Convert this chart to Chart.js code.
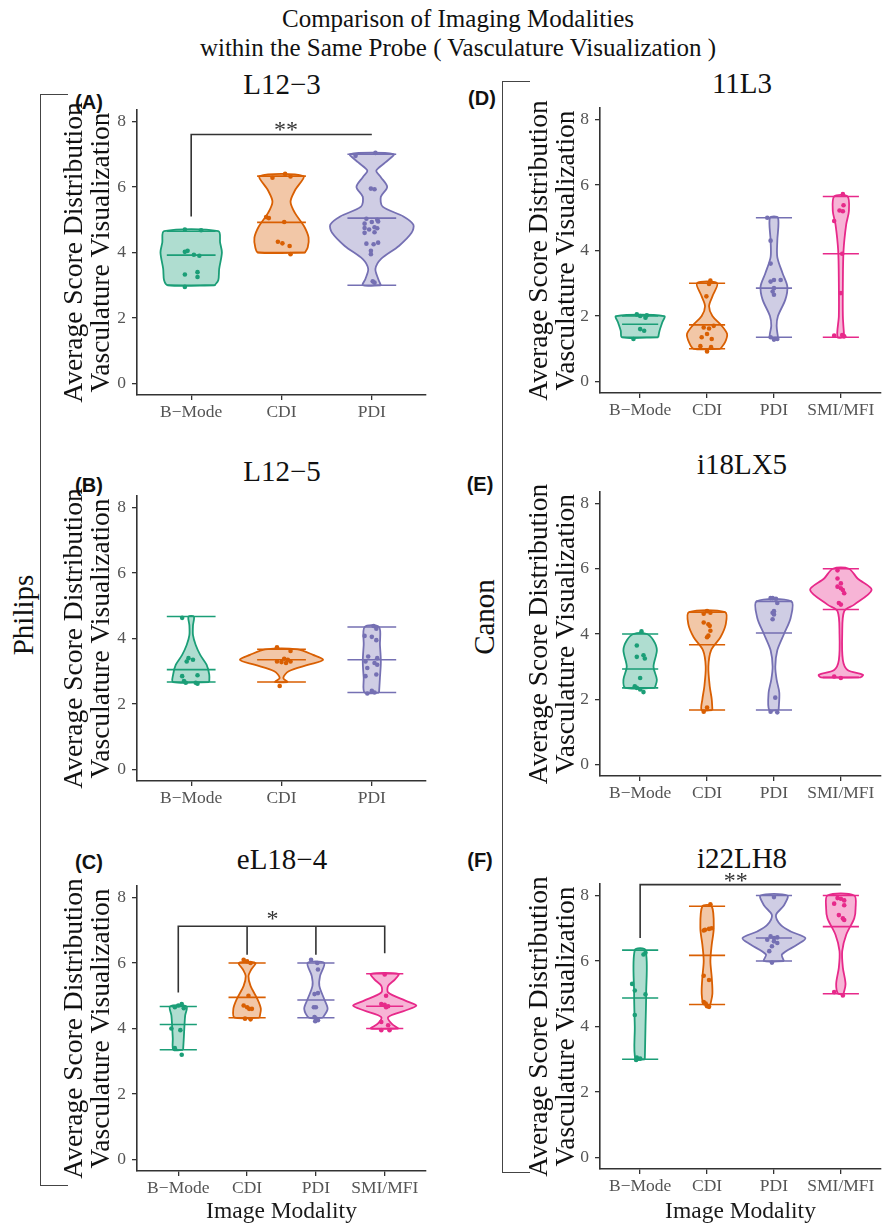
<!DOCTYPE html>
<html>
<head>
<meta charset="utf-8">
<script src="https://cdn.jsdelivr.net/npm/chart.js@4.4.1/dist/chart.umd.min.js"></script>
<style>
body { margin: 0; background: #fff; }
#page { position: relative; width: 885px; height: 1224px; overflow: hidden; font-family: 'Liberation Serif', 'Times New Roman', serif; color: #111; }
canvas { position: absolute; }
.txt { position: absolute; white-space: nowrap; line-height: 1; transform: translate(-50%, -50%); }
.main { font-size: 25px; }
.ptitle { font-size: 29px; }
.rot { transform: translate(-50%, -50%) rotate(-90deg); }
.tag { font-family: 'Liberation Sans', Arial, sans-serif; font-weight: bold; font-size: 20px; }
.brk { position: absolute; border: 1.5px solid #444; border-right: none; width: 27px; height: 1090px; }
</style>
</head>
<body>
<div id="page">
  <div class="txt main" style="left:458px; top:18px;">Comparison of Imaging Modalities</div>
  <div class="txt main" style="left:458px; top:47px;">within the Same Probe ( Vasculature Visualization )</div>

  <div class="brk" style="left:40px; top:94px;"></div>
  <div class="brk" style="left:502px; top:81px;"></div>
  <div class="txt ptitle rot" style="left:23px; top:615px;">Philips</div>
  <div class="txt ptitle rot" style="left:484px; top:617px;">Canon</div>

  <div class="txt ptitle" style="left:282px; top:84px;">L12&#8722;3</div>
  <div class="txt ptitle" style="left:282px; top:471px;">L12&#8722;5</div>
  <div class="txt ptitle" style="left:282px; top:859px;">eL18&#8722;4</div>
  <div class="txt ptitle" style="left:742px; top:83px;">11L3</div>
  <div class="txt ptitle" style="left:742px; top:464px;">i18LX5</div>
  <div class="txt ptitle" style="left:742px; top:858px;">i22LH8</div>

  <div class="txt tag" style="left:89px; top:102px;">(A)</div>
  <div class="txt tag" style="left:89px; top:485px;">(B)</div>
  <div class="txt tag" style="left:89px; top:862px;">(C)</div>
  <div class="txt tag" style="left:482px; top:98px;">(D)</div>
  <div class="txt tag" style="left:480px; top:484px;">(E)</div>
  <div class="txt tag" style="left:480px; top:860px;">(F)</div>

  <canvas id="chartA" width="375" height="338" style="left:55px; top:85px;"></canvas>
  <canvas id="chartB" width="375" height="338" style="left:55px; top:471px;"></canvas>
  <canvas id="chartC" width="375" height="363" style="left:55px; top:861px;"></canvas>
  <canvas id="chartD" width="380" height="338" style="left:505px; top:83px;"></canvas>
  <canvas id="chartE" width="380" height="337" style="left:505px; top:467px;"></canvas>
  <canvas id="chartF" width="380" height="365" style="left:505px; top:859px;"></canvas>
</div>

<script>
'use strict';

let catsThree = ['B\u2212Mode', 'CDI', 'PDI'];
let catsFour = ['B\u2212Mode', 'CDI', 'PDI', 'SMI/MFI'];
let catColors = ['#1B9E77', '#D95F02', '#7570B3', '#E7298A'];
let catFills = ['rgba(27,158,119,0.35)', 'rgba(217,95,2,0.35)', 'rgba(117,112,179,0.35)', 'rgba(231,41,138,0.35)'];
let yTicks = [0, 2, 4, 6, 8];
let yTitleLines = ['Average Score Distribution', 'Vasculature Visualization'];
let serif = "'Liberation Serif', 'Times New Roman', serif";

// violin outlines: [score, half width in category units]
let violinA = [
    [[3.0, 0.26], [3.15, 0.3], [3.5, 0.31], [4.0, 0.34], [4.3, 0.32], [4.65, 0.3]],
    [[4.0, 0.26], [4.15, 0.29], [4.45, 0.3], [4.8, 0.25], [5.2, 0.15], [5.55, 0.1], [5.9, 0.15], [6.33, 0.24]],
    [[3.0, 0.1], [3.2, 0.07], [3.5, 0.04], [3.8, 0.1], [4.2, 0.3], [4.6, 0.44], [4.85, 0.46], [5.1, 0.35], [5.4, 0.12], [5.7, 0.1], [6.0, 0.17], [6.3, 0.1], [6.5, 0.05], [6.75, 0.15], [7.0, 0.24]]
];
let violinB = [
    [[2.67, 0.2], [2.9, 0.2], [3.2, 0.17], [3.5, 0.1], [3.8, 0.05], [4.1, 0.02], [4.4, 0.02], [4.67, 0.03]],
    [[2.67, 0.07], [2.8, 0.02], [3.0, 0.08], [3.2, 0.3], [3.35, 0.46], [3.5, 0.35], [3.67, 0.18]],
    [[2.35, 0.08], [2.8, 0.09], [3.3, 0.1], [3.8, 0.09], [4.35, 0.08]]
];
let violinC = [
    [[3.35, 0.07], [3.7, 0.08], [4.1, 0.09], [4.4, 0.1], [4.67, 0.12]],
    [[4.33, 0.18], [4.6, 0.2], [4.9, 0.15], [5.3, 0.05], [5.6, 0.02], [5.8, 0.06], [6.0, 0.12]],
    [[4.33, 0.1], [4.6, 0.17], [4.9, 0.12], [5.3, 0.05], [5.6, 0.06], [6.0, 0.12]],
    [[4.0, 0.2], [4.15, 0.1], [4.35, 0.05], [4.55, 0.3], [4.7, 0.46], [4.85, 0.3], [5.1, 0.05], [5.3, 0.05], [5.5, 0.15], [5.67, 0.2]]
];
let violinD = [
    [[1.35, 0.27], [1.55, 0.29], [1.8, 0.33], [2.0, 0.36]],
    [[1.0, 0.2], [1.2, 0.27], [1.45, 0.3], [1.7, 0.22], [2.0, 0.08], [2.3, 0.03], [2.6, 0.08], [3.0, 0.15]],
    [[1.35, 0.06], [1.7, 0.04], [2.0, 0.06], [2.5, 0.17], [2.9, 0.2], [3.3, 0.13], [3.8, 0.05], [4.3, 0.05], [5.0, 0.06]],
    [[1.35, 0.05], [2.0, 0.03], [3.0, 0.03], [4.0, 0.04], [4.8, 0.08], [5.2, 0.12], [5.65, 0.1]]
];
let violinE = [
    [[2.35, 0.22], [2.6, 0.25], [3.0, 0.2], [3.5, 0.25], [3.8, 0.2], [4.0, 0.1]],
    [[1.67, 0.08], [2.0, 0.07], [2.4, 0.04], [3.0, 0.02], [3.5, 0.06], [3.9, 0.2], [4.3, 0.28], [4.67, 0.27]],
    [[1.67, 0.07], [2.2, 0.08], [2.6, 0.04], [3.0, 0.02], [3.5, 0.05], [4.0, 0.15], [4.5, 0.25], [5.0, 0.26]],
    [[2.67, 0.3], [2.75, 0.33], [2.9, 0.1], [3.2, 0.03], [4.0, 0.02], [4.7, 0.05], [4.9, 0.2], [5.35, 0.46], [5.7, 0.25], [6.0, 0.12]]
];
let violinF = [
    [[3.0, 0.07], [4.0, 0.08], [5.0, 0.09], [6.33, 0.08]],
    [[4.67, 0.05], [5.0, 0.08], [5.5, 0.07], [6.0, 0.05], [6.5, 0.07], [7.0, 0.1], [7.67, 0.07]],
    [[6.0, 0.15], [6.2, 0.12], [6.5, 0.35], [6.7, 0.47], [6.9, 0.25], [7.1, 0.1], [7.4, 0.03], [7.7, 0.15], [8.0, 0.2]],
    [[5.0, 0.04], [5.3, 0.07], [5.8, 0.03], [6.3, 0.02], [6.8, 0.08], [7.3, 0.2], [7.6, 0.22], [8.0, 0.2]]
];

// horizontal marks: min, middle, max
let barsA = [[3.0, 3.92, 4.65], [4.0, 4.92, 6.33], [3.0, 5.05, 7.0]];
let barsB = [[2.67, 3.05, 4.67], [2.67, 3.35, 3.67], [2.35, 3.35, 4.35]];
let barsC = [[3.35, 4.12, 4.67], [4.33, 4.95, 6.0], [4.33, 4.87, 6.0], [4.0, 4.68, 5.67]];
let barsD = [[1.35, 1.75, 2.0], [1.0, 1.73, 3.0], [1.35, 2.85, 5.0], [1.35, 3.9, 5.65]];
let barsE = [[2.35, 2.93, 4.0], [1.67, 3.67, 4.67], [1.67, 4.03, 5.0], [2.67, 4.75, 6.0]];
let barsF = [[3.0, 4.87, 6.33], [4.67, 6.17, 7.67], [6.0, 6.7, 8.0], [5.0, 7.05, 8.0]];

// observations: [score, jitter]
let dotsA = [
    [[4.7, -0.07], [4.68, 0.11], [4.02, -0.07], [4.05, -0.04], [3.93, 0.03], [3.9, 0.09], [3.33, -0.07], [3.4, 0.07], [3.25, 0.07], [2.95, -0.07]],
    [[6.28, -0.1], [6.4, 0.04], [6.32, 0.1], [5.08, -0.17], [5.05, -0.14], [4.93, 0.03], [4.33, -0.04], [4.28, 0.01], [4.2, 0.09], [3.95, 0.1]],
    [[6.95, -0.18], [7.04, 0.04], [5.95, -0.01], [5.93, 0.03], [5.03, -0.06], [5.0, 0.06], [4.93, 0.0], [4.95, 0.07], [4.88, -0.08], [4.75, -0.08], [4.77, 0.03], [4.74, 0.06], [4.7, -0.03], [4.6, -0.08], [4.62, 0.03], [4.27, -0.06], [4.25, 0.02], [4.3, 0.07], [4.05, -0.01], [3.95, -0.01], [3.12, 0.01], [3.08, 0.03]]
];
let dotsB = [
    [[4.63, -0.1], [3.4, -0.03], [3.35, 0.02], [3.3, -0.05], [2.85, -0.1], [2.88, 0.07], [2.7, -0.08], [2.65, -0.06], [2.65, 0.05], [2.62, 0.07]],
    [[3.73, -0.05], [3.62, 0.1], [3.38, 0.03], [3.35, 0.07], [3.3, -0.05], [3.28, 0.0], [3.25, 0.05], [3.3, 0.1], [2.55, -0.02]],
    [[4.38, 0.02], [4.3, 0.05], [4.08, -0.08], [4.05, 0.0], [3.95, 0.05], [3.45, -0.04], [3.4, 0.06], [3.3, -0.07], [3.25, 0.03], [3.2, 0.06], [3.1, -0.05], [2.85, -0.07], [2.9, 0.05], [2.4, 0.0], [2.32, -0.05], [2.35, 0.03]]
];
let dotsC = [
    [[4.75, 0.05], [4.7, 0.0], [4.65, -0.05], [4.62, 0.08], [4.0, -0.1], [3.95, 0.03], [3.4, -0.05], [3.2, 0.05]],
    [[6.1, -0.05], [6.05, 0.0], [6.0, 0.05], [5.0, 0.02], [4.7, -0.05], [4.65, 0.0], [4.6, 0.03], [4.6, 0.07], [4.3, -0.03], [4.28, 0.05]],
    [[6.1, -0.07], [6.0, 0.02], [5.8, 0.03], [5.05, -0.02], [5.08, 0.03], [4.65, -0.03], [4.65, 0.0], [4.35, -0.02], [4.3, 0.0], [4.25, 0.03], [4.22, -0.01]],
    [[5.65, 0.0], [5.0, 0.02], [4.75, -0.05], [4.72, 0.0], [4.68, 0.05], [4.65, 0.02], [4.2, -0.05], [4.1, 0.05], [3.95, -0.05], [3.95, 0.07]]
];
let dotsD = [
    [[2.05, -0.05], [2.0, 0.0], [2.02, 0.1], [1.95, 0.08], [1.6, 0.0], [1.55, 0.06], [1.3, -0.1]],
    [[3.08, 0.05], [2.98, 0.03], [2.6, -0.01], [1.7, 0.1], [1.65, -0.05], [1.62, 0.03], [1.45, 0.0], [1.35, -0.08], [1.3, 0.07], [1.08, -0.1], [1.05, 0.06], [0.92, 0.0]],
    [[5.0, -0.1], [4.3, -0.05], [3.6, -0.05], [3.1, 0.0], [3.1, 0.1], [3.05, -0.05], [2.85, 0.0], [2.75, -0.02], [2.65, 0.0], [1.35, -0.05], [1.28, 0.0], [1.3, 0.05]],
    [[5.72, 0.03], [5.38, 0.04], [5.22, -0.02], [5.2, 0.03], [4.9, -0.1], [3.9, 0.02], [2.7, 0.0], [1.4, -0.1], [1.42, 0.02], [1.38, 0.05]]
];
let dotsE = [
    [[4.08, 0.02], [3.65, -0.05], [3.3, -0.05], [3.35, 0.05], [3.25, 0.07], [2.65, 0.0], [2.4, -0.08], [2.35, -0.05], [2.3, 0.0], [2.22, 0.05]],
    [[4.7, 0.0], [4.62, -0.05], [4.65, 0.05], [4.35, -0.05], [4.3, 0.02], [4.25, 0.04], [4.1, 0.05], [3.95, 0.02], [3.9, 0.0], [1.75, 0.0], [1.62, -0.05]],
    [[5.1, -0.05], [5.1, -0.02], [5.08, 0.03], [4.95, 0.05], [4.7, 0.0], [4.65, -0.02], [4.6, 0.0], [4.45, -0.02], [2.05, 0.02], [1.62, -0.05], [1.6, 0.05]],
    [[5.95, -0.05], [5.7, -0.05], [5.55, 0.0], [5.45, -0.05], [5.4, 0.0], [5.35, 0.03], [5.25, 0.05], [4.95, -0.03], [4.9, 0.0], [2.7, -0.1], [2.65, 0.0]]
];
let dotsF = [
    [[6.25, 0.08], [6.2, 0.05], [5.3, -0.12], [5.1, -0.08], [4.98, 0.08], [4.35, -0.08], [3.05, -0.05], [3.02, 0.0], [2.98, -0.06]],
    [[7.73, 0.05], [7.0, 0.07], [6.98, 0.03], [6.95, -0.03], [6.93, -0.05], [5.55, -0.05], [5.42, 0.03], [4.75, -0.05], [4.7, -0.02], [4.62, 0.0], [4.6, 0.03]],
    [[7.95, 0.0], [6.75, -0.05], [6.7, 0.0], [6.72, 0.05], [6.65, -0.1], [6.6, 0.0], [6.55, 0.05], [6.45, -0.03], [6.3, -0.07], [5.95, -0.03]],
    [[7.92, -0.05], [7.9, 0.0], [7.85, 0.05], [7.75, -0.1], [7.7, 0.05], [7.4, -0.03], [7.3, 0.03], [7.25, 0.05], [5.05, -0.1], [4.95, 0.03]]
];

// significance brackets, [category, score], null breaks the line
let bracketA = [[1, 5.1], [1, 7.6], [3, 7.6]];
let bracketC = [[1, 5.1], [1, 7.12], [4, 7.12], [4, 6.3], null, [2, 7.12], [2, 6.25], null, [3, 7.12], [3, 6.25]];
let bracketF = [[1, 6.7], [1, 8.33], [4, 8.33]];
let starsA = [2.05, 7.9, '**'];
let starsC = [2.37, 7.5, '*'];
let starsF = [2.43, 8.6, '**'];

function violinPoints(pos, profile) {
    let pts = [];
    for (let i = 0; i < profile.length; i++) {
        pts.push({x: pos + profile[i][1], y: profile[i][0]});
    }
    for (let i = profile.length - 1; i >= 0; i--) {
        pts.push({x: pos - profile[i][1], y: profile[i][0]});
    }
    pts.push({x: pts[0].x, y: pts[0].y});
    return pts;
}

let yTitlePlugin = {
    id: 'yTitle',
    afterDraw(chart, args, opts) {
        let ctx = chart.ctx;
        let area = chart.chartArea;
        ctx.save();
        ctx.translate(opts.x, (area.top + area.bottom) / 2);
        ctx.rotate(-Math.PI / 2);
        ctx.font = '27.5px ' + serif;
        ctx.fillStyle = '#111';
        ctx.textAlign = 'center';
        ctx.textBaseline = 'middle';
        ctx.fillText(yTitleLines[0], 0, 0);
        ctx.fillText(yTitleLines[1], 0, 27);
        ctx.restore();
    }
};

let starsPlugin = {
    id: 'stars',
    afterDatasetsDraw(chart, args, opts) {
        if (!opts.mark) return;
        let ctx = chart.ctx;
        let px = chart.scales.x.getPixelForValue(opts.mark[0]);
        let py = chart.scales.y.getPixelForValue(opts.mark[1]);
        ctx.save();
        ctx.font = '24px ' + serif;
        ctx.fillStyle = '#333';
        ctx.textAlign = 'center';
        ctx.textBaseline = 'alphabetic';
        ctx.fillText(opts.mark[2], px, py + 12);
        ctx.restore();
    }
};

function buildPanel(id, cats, violins, bars, dots, bracket, stars, axisWidth, titleX, xHeight, rightPad, showXTitle) {
    let datasets = [];
    let half = 0.27;
    for (let i = 0; i < cats.length; i++) {
        let pos = i + 1;
        datasets.push({
            data: violinPoints(pos, violins[i]),
            borderColor: catColors[i],
            backgroundColor: catFills[i],
            borderWidth: 1.8,
            fill: 'shape',
            tension: 0.3,
            pointRadius: 0,
            order: 3
        });
        let barPts = [];
        for (let b = 0; b < bars[i].length; b++) {
            barPts.push({x: pos - half, y: bars[i][b]});
            barPts.push({x: pos + half, y: bars[i][b]});
            barPts.push({x: pos, y: null});
        }
        datasets.push({
            data: barPts,
            borderColor: catColors[i],
            borderWidth: 1.6,
            fill: false,
            pointRadius: 0,
            spanGaps: false,
            order: 2
        });
        datasets.push({
            data: dots[i].map(d => ({x: pos + d[1], y: d[0]})),
            showLine: false,
            pointRadius: 2.3,
            pointBorderWidth: 0,
            pointBackgroundColor: catColors[i],
            order: 1
        });
    }
    if (bracket) {
        let bp = [];
        for (let k = 0; k < bracket.length; k++) {
            if (bracket[k] === null) {
                bp.push({x: bracket[k - 1][0], y: null});
            } else {
                bp.push({x: bracket[k][0], y: bracket[k][1]});
            }
        }
        datasets.push({
            data: bp,
            borderColor: '#333',
            borderWidth: 1.6,
            fill: false,
            pointRadius: 0,
            spanGaps: false,
            order: 0
        });
    }

    let ctx = document.getElementById(id).getContext('2d');
    return new Chart(ctx, {
        type: 'line',
        data: {datasets: datasets},
        options: {
            responsive: false,
            animation: false,
            devicePixelRatio: 1,
            layout: {padding: {top: 25, right: rightPad, left: 0, bottom: 0}},
            elements: {line: {capBezierPoints: false}},
            datasets: {line: {clip: false}},
            plugins: {
                legend: {display: false},
                tooltip: {enabled: false},
                yTitle: {x: titleX},
                stars: {mark: stars}
            },
            scales: {
                x: {
                    type: 'linear',
                    min: 0.4,
                    max: cats.length + 0.6,
                    afterBuildTicks: s => { s.ticks = cats.map((c, i) => ({value: i + 1})); },
                    afterFit: s => { s.height = xHeight; },
                    ticks: {
                        callback: v => cats[Math.round(v) - 1],
                        color: '#555',
                        font: {family: serif, size: 17.5},
                        padding: 2,
                        maxRotation: 0,
                        autoSkip: false
                    },
                    grid: {drawOnChartArea: false, drawTicks: true, tickLength: 5, color: '#333', lineWidth: 1.3},
                    border: {display: true, color: '#333', width: 1.6},
                    title: {
                        display: showXTitle,
                        text: 'Image Modality',
                        color: '#1a1a1a',
                        font: {family: serif, size: 23.5, lineHeight: 1.05},
                        padding: {top: 0, bottom: 0}
                    }
                },
                y: {
                    type: 'linear',
                    min: -0.35,
                    max: 8.35,
                    afterBuildTicks: s => { s.ticks = yTicks.map(v => ({value: v})); },
                    afterFit: s => { s.width = axisWidth; },
                    ticks: {color: '#555', font: {family: serif, size: 17.5}, padding: 6},
                    grid: {drawOnChartArea: false, drawTicks: true, tickLength: 5, color: '#333', lineWidth: 1.3},
                    border: {display: true, color: '#333', width: 1.6}
                }
            }
        },
        plugins: [yTitlePlugin, starsPlugin]
    });
}

buildPanel('chartA', catsThree, violinA, barsA, dotsA, bracketA, starsA, 82, 20, 28, 3, false);
buildPanel('chartB', catsThree, violinB, barsB, dotsB, null, null, 82, 20, 28, 3, false);
buildPanel('chartC', catsFour, violinC, barsC, dotsC, bracketC, starsC, 82, 20, 53, 3, true);
buildPanel('chartD', catsFour, violinD, barsD, dotsD, null, null, 95, 35, 28, 0, false);
buildPanel('chartE', catsFour, violinE, barsE, dotsE, null, null, 95, 35, 28, 0, false);
buildPanel('chartF', catsFour, violinF, barsF, dotsF, bracketF, starsF, 95, 35, 55, 0, true);
</script>
</body>
</html>
